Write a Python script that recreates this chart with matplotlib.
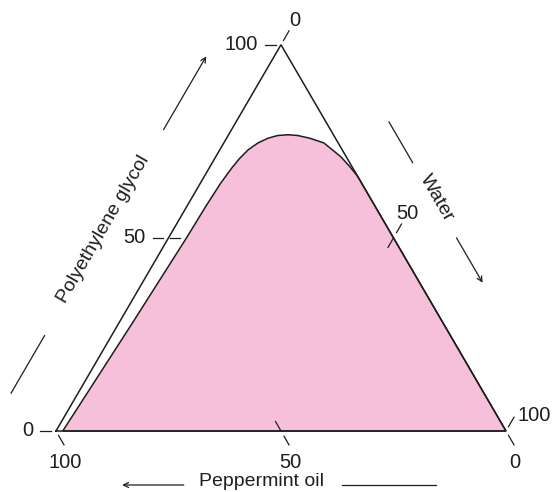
import numpy as np
import matplotlib
matplotlib.use("Agg")
import matplotlib.pyplot as plt

# ternary diagram: polyethylene glycol / water / peppermint oil (percent)
H = np.sqrt(3) / 2

# boundary of the shaded (pink) region
region_peg = [0, 0, 66, 68.5, 71, 73, 74.6, 75.8, 76.5, 76.7, 76.5, 75.8,
              74.6, 72.8, 70.5, 68, 64, 58, 50, 28]
region_water = [1.5, 100, 34, 31.0, 27.8, 24.7, 22.2, 18.5, 15.5, 13.2, 11.0,
                9.2, 7.6, 6.3, 5.5, 5.0, 4.5, 4.2, 4.0, 3.0]

peg_ticks = [0, 50, 100]
water_ticks = [0, 50, 100]
oil_ticks = [100, 50, 0]

PINK = "#f6c0da"
INK = "#1e1e1e"
FONT = ["Liberation Sans", "DejaVu Sans"]

# pixel scale of the drawing (data unit -> px)
SX, SY = 450.0, 446.0
X0, Y0 = 56.0, 431.0
W, HGT = 553, 492


def tern(peg, water):
    p = np.asarray(peg, dtype=float) / 100
    w = np.asarray(water, dtype=float) / 100
    return w + p / 2, p * H


def px(dx, dy):
    return dx / SX, dy / SY


def shift(pt, d, dist):
    ox, oy = px(d[0] * dist, d[1] * dist)
    return pt[0] + ox, pt[1] + oy


fig = plt.figure(figsize=(W / 100, HGT / 100), dpi=100)
ax = fig.add_axes([0, 0, 1, 1])
ax.set_xlim(-X0 / SX, (W - X0) / SX)
ax.set_ylim(-(HGT - Y0) / SY, Y0 / SY)
ax.axis("off")

# shaded region
rx, ry = tern(region_peg, region_water)
ax.fill(rx, ry, facecolor=PINK, edgecolor=INK, lw=1.1, zorder=1)

# triangle
tx, ty = tern([0, 0, 100, 0], [0, 100, 0, 0])
ax.plot(tx, ty, color=INK, lw=1.1, zorder=2, solid_joinstyle="miter")

tick_kw = dict(color=INK, lw=0.9, zorder=3)
txt_kw = dict(fontsize=14.5, family=FONT, color=INK)


def draw_tick(pt, d, inner):
    a = shift(pt, d, 5 if not inner else 6)
    b = shift(pt, d, 16)
    ax.plot([a[0], b[0]], [a[1], b[1]], **tick_kw)
    if inner:
        a = shift(pt, d, -1)
        b = shift(pt, d, -11)
        ax.plot([a[0], b[0]], [a[1], b[1]], **tick_kw)


# polyethylene glycol (left side, horizontal ticks)
d = (-1.0, 0.0)
for v in peg_ticks:
    pt = tern(v, 0)
    draw_tick(pt, d, 0 < v < 100)
    lx, ly = shift(pt, d, 23)
    ax.text(lx, ly, str(v), ha="right", va="center", **txt_kw)

# water (right side)
d = (0.5, H)
for v in water_ticks:
    pt = tern(100 - v, v)
    draw_tick(pt, d, 0 < v < 100)
    if v == 100:
        ox, oy = px(11, 15.5)
        ax.text(pt[0] + ox, pt[1] + oy, str(v), ha="left", va="center", **txt_kw)
    else:
        lx, ly = shift(pt, d, 28)
        ax.text(lx, ly, str(v), ha="center", va="center", **txt_kw)

# peppermint oil (bottom)
d = (0.5, -H)
for v in oil_ticks:
    pt = tern(0, 100 - v)
    draw_tick(pt, d, 0 < v < 100)
    ox, oy = px(9, -22)
    ax.text(pt[0] + ox, pt[1] + oy, str(v), ha="center", va="top", **txt_kw)

name_kw = dict(fontsize=14, family=FONT, color=INK)
arrow_kw = dict(arrowstyle="->", color=INK, lw=0.9, shrinkA=0, shrinkB=0,
                mutation_scale=9)


def edge_pt(which, f, off):
    # point on an edge at fraction f, pushed off by px (horizontal or vertical)
    if which == "peg":
        p = tern(f * 100, 0)
        o = px(-off, 0)
    elif which == "water":
        p = tern(100 - f * 100, f * 100)
        o = px(off, 0)
    else:
        p = tern(0, 100 - f * 100)
        o = px(0, -off)
    return p[0] + o[0], p[1] + o[1]


def guide(which, f0, f1, off, arrow):
    a = edge_pt(which, f0, off)
    b = edge_pt(which, f1, off)
    if arrow:
        ax.annotate("", xy=b, xytext=a, arrowprops=arrow_kw)
    else:
        ax.plot([a[0], b[0]], [a[1], b[1]], color=INK, lw=0.9)


# axis names with their arrows
x, y = edge_pt("peg", 0.522, 70)
ax.text(x, y, "Polyethylene glycol", rotation=60, rotation_mode="anchor",
        ha="center", va="center", **name_kw)
guide("peg", 0.098, 0.247, 67, False)
guide("peg", 0.78, 0.97, 68, True)

x, y = edge_pt("water", 0.398, 66)
ax.text(x, y, "Water", rotation=-60, rotation_mode="anchor",
        ha="center", va="center", **name_kw)
guide("water", 0.20, 0.305, 63, False)
guide("water", 0.50, 0.616, 63, True)

x, y = edge_pt("oil", 0.543, 55)
ax.text(x, y, "Peppermint oil", ha="center", va="baseline", **name_kw)
guide("oil", 0.716, 0.853, 54, True)
guide("oil", 0.364, 0.156, 54, False)

fig.savefig("out.png", dpi=100, facecolor="white")
